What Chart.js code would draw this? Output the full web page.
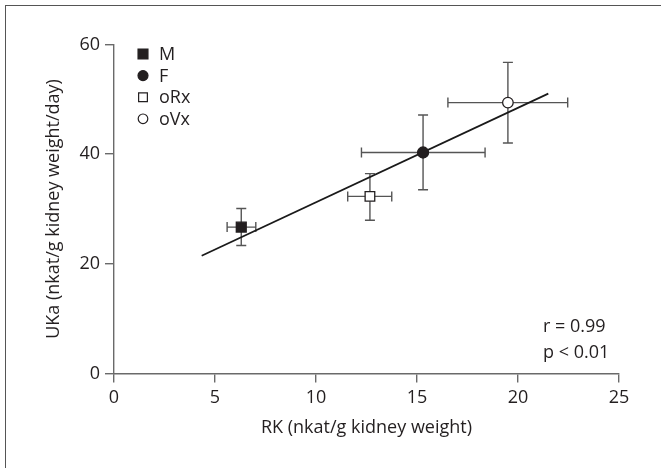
<!DOCTYPE html>
<html>
<head>
<meta charset="utf-8">
<script src="https://cdn.jsdelivr.net/npm/chart.js@4.4.0/dist/chart.umd.min.js"></script>
<style>
  html, body { margin: 0; padding: 0; background: #fff; overflow: hidden; }
  #wrap { position: relative; width: 661px; height: 468px; }
  #frame {
    position: absolute; left: 5px; top: 5px; width: 700px; height: 500px;
    border-left: 1.5px solid #555; border-top: 1.5px solid #555;
  }
  #plot { position: absolute; left: 0; top: 0; }
</style>
</head>
<body>
<div id="wrap">
  <div id="frame"></div>
  <canvas id="plot" width="661" height="468"></canvas>
</div>
<script>
// group means with error limits (RK on x, UKa on y)
const groups = ['M', 'F', 'oRx', 'oVx'];
const rkMean = [6.3, 15.3, 12.67, 19.5];
const rkLow = [5.6, 12.25, 11.57, 16.53];
const rkHigh = [7.02, 18.37, 13.75, 22.46];
const ukaMean = [26.7, 40.3, 32.3, 49.4];
const ukaLow = [23.35, 33.5, 27.96, 42.04];
const ukaHigh = [30.1, 47.14, 36.46, 56.74];

// regression line end points
const fitX = [4.34, 21.5];
const fitY = [21.46, 51.04];

const xTicks = [0, 5, 10, 15, 20, 25];
const yTicks = [0, 20, 40, 60];
const statLines = ['r = 0.99', 'p < 0.01'];

const FONT = '"Open Sans", "DejaVu Sans", sans-serif';
const FSIZE = 18;
const TEXT = '#231f20';
const AXIS = '#6a6a6a';

const markerStyle = [
    { pointStyle: 'rect', radius: 7, fill: '#231f20', legendRadius: 7 },
    { pointStyle: 'circle', radius: 5.5, fill: '#231f20', legendRadius: 5 },
    { pointStyle: 'rect', radius: 6.8, fill: '#ffffff', legendRadius: 6.2 },
    { pointStyle: 'circle', radius: 5.3, fill: '#ffffff', legendRadius: 4.8 }
];

const groupSets = groups.map((g, i) => ({
    label: g,
    data: [{ x: rkMean[i], y: ukaMean[i] }],
    pointStyle: markerStyle[i].pointStyle,
    pointRadius: markerStyle[i].radius,
    backgroundColor: markerStyle[i].fill,
    borderColor: '#231f20',
    borderWidth: 1.3,
    errX: [rkLow[i], rkHigh[i]],
    errY: [ukaLow[i], ukaHigh[i]],
    order: 1
}));

const fitSet = {
    label: 'fit',
    type: 'line',
    data: fitX.map((x, i) => ({ x: x, y: fitY[i] })),
    borderColor: '#1a1a1a',
    borderWidth: 1.7,
    pointRadius: 0,
    fill: false,
    order: 2
};

// error bars go behind the markers
const errorBars = {
    id: 'errorBars',
    beforeDatasetsDraw(chart) {
        const ctx = chart.ctx;
        const xs = chart.scales.x, ys = chart.scales.y;
        const cap = 5;
        ctx.save();
        ctx.strokeStyle = '#555';
        ctx.lineWidth = 1.4;
        chart.data.datasets.forEach(ds => {
            if (!ds.errX) return;
            const px = xs.getPixelForValue(ds.data[0].x);
            const py = ys.getPixelForValue(ds.data[0].y);
            const x0 = xs.getPixelForValue(ds.errX[0]);
            const x1 = xs.getPixelForValue(ds.errX[1]);
            const y0 = ys.getPixelForValue(ds.errY[0]);
            const y1 = ys.getPixelForValue(ds.errY[1]);
            ctx.beginPath();
            ctx.moveTo(x0, py); ctx.lineTo(x1, py);
            ctx.moveTo(x0, py - cap); ctx.lineTo(x0, py + cap);
            ctx.moveTo(x1, py - cap); ctx.lineTo(x1, py + cap);
            ctx.moveTo(px, y0); ctx.lineTo(px, y1);
            ctx.moveTo(px - cap, y0); ctx.lineTo(px + cap, y0);
            ctx.moveTo(px - cap, y1); ctx.lineTo(px + cap, y1);
            ctx.stroke();
        });
        ctx.restore();
    }
};

// legend in the top-left corner and the r / p note
const notes = {
    id: 'notes',
    afterDraw(chart) {
        const ctx = chart.ctx;
        const area = chart.chartArea;
        ctx.save();
        ctx.font = FSIZE + 'px ' + FONT;
        ctx.fillStyle = TEXT;
        ctx.textBaseline = 'middle';
        groups.forEach((g, i) => {
            const cy = area.top + 9.5 + i * 21.6;
            const cx = area.left + 29;
            ctx.fillStyle = markerStyle[i].fill;
            ctx.strokeStyle = '#231f20';
            ctx.lineWidth = 1.2;
            Chart.helpers.drawPoint(ctx, {
                pointStyle: markerStyle[i].pointStyle,
                radius: markerStyle[i].legendRadius,
                rotation: 0,
                borderWidth: 1.2
            }, cx, cy);
            ctx.fillStyle = TEXT;
            ctx.fillText(g, area.left + 45, cy + 1);
        });
        statLines.forEach((t, i) => {
            ctx.fillText(t, area.right - 76, area.top + 282 + i * 26);
        });
        ctx.restore();
    }
};

new Chart(document.getElementById('plot'), {
    type: 'scatter',
    data: { datasets: groupSets.concat([fitSet]) },
    plugins: [errorBars, notes],
    options: {
        responsive: false,
        animation: false,
        layout: { padding: { left: 30, right: 42, top: 44.5, bottom: 24.5 } },
        plugins: {
            legend: { display: false },
            tooltip: { enabled: false }
        },
        scales: {
            x: {
                type: 'linear',
                min: 0,
                max: 25,
                afterBuildTicks: s => { s.ticks = xTicks.map(v => ({ value: v })); },
                afterFit: s => { s.height = 70; },
                grid: { drawOnChartArea: false, drawTicks: true, tickLength: 9, color: AXIS, lineWidth: 1.4 },
                border: { display: true, color: AXIS, width: 1.4 },
                ticks: { color: TEXT, font: { family: FONT, size: FSIZE }, padding: 5, maxRotation: 0 },
                title: {
                    display: true,
                    text: 'RK (nkat/g kidney weight)',
                    color: TEXT,
                    font: { family: FONT, size: FSIZE },
                    padding: { top: 0, bottom: 4.5 }
                }
            },
            y: {
                type: 'linear',
                min: 0,
                max: 60,
                afterBuildTicks: s => { s.ticks = yTicks.map(v => ({ value: v })); },
                afterFit: s => { s.width = 84; },
                grid: { drawOnChartArea: false, drawTicks: true, tickLength: 9, color: AXIS, lineWidth: 1.4 },
                border: { display: true, color: AXIS, width: 1.4 },
                ticks: { color: TEXT, font: { family: FONT, size: FSIZE }, padding: 5 },
                title: {
                    display: true,
                    text: 'UKa (nkat/g kidney weight/day)',
                    color: TEXT,
                    font: { family: FONT, size: FSIZE },
                    padding: { top: 13.5, bottom: 0 }
                }
            }
        }
    }
});
</script>
</body>
</html>
